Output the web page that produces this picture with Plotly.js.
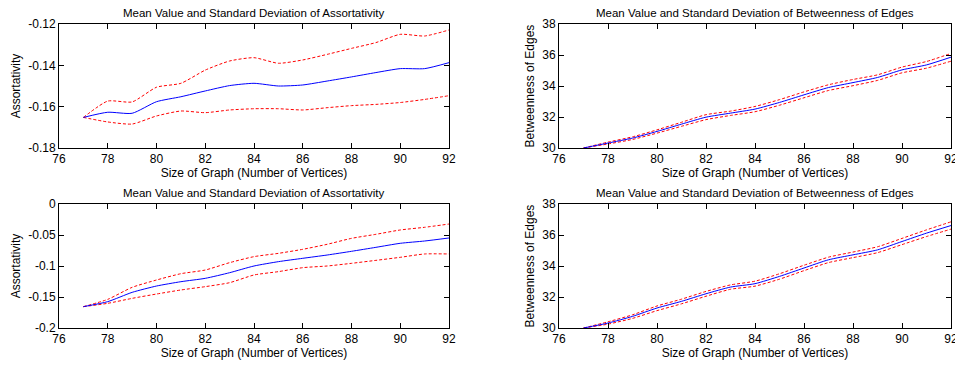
<!DOCTYPE html>
<html><head><meta charset="utf-8">
<script src="https://cdn.plot.ly/plotly-3.0.1.min.js"></script>
<style>html,body{margin:0;padding:0;background:#fff}#c{width:955px;height:367px}</style>
</head><body><div id="c"></div>
<script>
const sizes = [77,78,79,80,81,82,83,84,85,86,87,88,89,90,91,92];

const assortA_mean  = [-0.1652,-0.1627,-0.1632,-0.1576,-0.1552,-0.1524,-0.1498,-0.1487,-0.1500,-0.1495,-0.1476,-0.1456,-0.1435,-0.1416,-0.1416,-0.1387];
const assortA_upper = [-0.1652,-0.1573,-0.1577,-0.1506,-0.1487,-0.1423,-0.1379,-0.1363,-0.1390,-0.1374,-0.1347,-0.1318,-0.1290,-0.1250,-0.1258,-0.1229];
const assortA_lower = [-0.1652,-0.1674,-0.1684,-0.1645,-0.1621,-0.1629,-0.1616,-0.1610,-0.1610,-0.1616,-0.1605,-0.1595,-0.1589,-0.1580,-0.1565,-0.1547];

const assortB_mean  = [-0.1656,-0.1575,-0.1425,-0.1323,-0.1253,-0.1199,-0.1108,-0.1000,-0.0930,-0.0876,-0.0823,-0.0763,-0.0699,-0.0634,-0.0597,-0.0548];
const assortB_upper = [-0.1656,-0.1538,-0.1344,-0.1226,-0.1124,-0.1065,-0.0946,-0.0849,-0.0796,-0.0731,-0.0650,-0.0554,-0.0489,-0.0419,-0.0376,-0.0323];
const assortB_lower = [-0.1656,-0.1602,-0.1522,-0.1452,-0.1387,-0.1333,-0.1269,-0.1145,-0.1091,-0.1027,-0.1000,-0.0957,-0.0909,-0.0860,-0.0806,-0.0806];

const betwA_mean  = [30.00,30.32,30.64,31.07,31.54,31.99,32.25,32.51,32.94,33.43,33.90,34.22,34.55,35.04,35.36,35.86];
const betwA_upper = [30.00,30.38,30.72,31.17,31.66,32.15,32.38,32.68,33.12,33.62,34.08,34.42,34.72,35.22,35.58,36.10];
const betwA_lower = [30.00,30.26,30.55,30.96,31.40,31.83,32.10,32.34,32.76,33.24,33.71,34.02,34.36,34.85,35.15,35.60];

const betwB_mean  = [30.00,30.32,30.75,31.29,31.72,32.21,32.64,32.86,33.33,33.87,34.40,34.72,35.04,35.58,36.12,36.61];
const betwB_upper = [30.00,30.40,30.85,31.42,31.86,32.36,32.78,33.02,33.50,34.05,34.57,34.90,35.24,35.78,36.33,36.85];
const betwB_lower = [30.00,30.25,30.62,31.12,31.56,32.05,32.50,32.70,33.15,33.70,34.22,34.54,34.86,35.38,35.90,36.38];

const xTicks = [76,78,80,82,84,86,88,90,92];
const yTicksA = [-0.18,-0.16,-0.14,-0.12];
const yTickTextA = ['-0.18','-0.16','-0.14','-0.12'];
const yTicksB = [-0.2,-0.15,-0.1,-0.05,0];
const yTickTextB = ['-0.2','-0.15','-0.1','-0.05','0'];
const yTicksBetw = [30,32,34,36,38];

const titleAssort = 'Mean Value and Standard Deviation of Assortativity';
const titleBetw = 'Mean Value and Standard Deviation of Betweenness of Edges';
const xLabel = 'Size of Graph (Number of Vertices)';

function group(mean, up, lo, xa, ya){
  const red = {color:'#ff0000', width:1, dash:'3px,2px', shape:'spline', smoothing:0.6};
  return [
    {x:sizes, y:up, xaxis:xa, yaxis:ya, mode:'lines', line:red, hoverinfo:'skip'},
    {x:sizes, y:lo, xaxis:xa, yaxis:ya, mode:'lines', line:red, hoverinfo:'skip'},
    {x:sizes, y:mean, xaxis:xa, yaxis:ya, mode:'lines', line:{color:'#0000ff', width:1, shape:'spline', smoothing:0.6}, hoverinfo:'skip'}
  ];
}
const data = [].concat(
  group(assortA_mean, assortA_upper, assortA_lower, 'x', 'y'),
  group(betwA_mean, betwA_upper, betwA_lower, 'x2', 'y2'),
  group(assortB_mean, assortB_upper, assortB_lower, 'x3', 'y3'),
  group(betwB_mean, betwB_upper, betwB_lower, 'x4', 'y4')
);

const F = 'Liberation Sans, Arial, sans-serif';
function xax(dom, anchor){
  return {domain:dom, anchor:anchor, range:[76,92], tickvals:xTicks, ticks:'inside', ticklen:5, tickcolor:'#000',
    showline:true, linecolor:'#000', linewidth:1, mirror:'ticks', showgrid:false, zeroline:false,
    ticklabeloverflow:'allow',
    tickfont:{family:F, size:12, color:'#000'},
    title:{text:xLabel, font:{family:F, size:12, color:'#000'}, standoff:3}};
}
function yax(dom, anchor, range, vals, text, label){
  return {domain:dom, anchor:anchor, range:range, tickvals:vals, ticktext:text, ticks:'inside', ticklen:5, tickcolor:'#000',
    showline:true, linecolor:'#000', linewidth:1, mirror:'ticks', showgrid:false, zeroline:false,
    ticklabeloverflow:'allow',
    tickfont:{family:F, size:12, color:'#000'},
    title:{text:label, font:{family:F, size:12, color:'#000'}, standoff:5}};
}
const dxL=[59/955,449/955], dxR=[559/955,951/955];
const dyT=[(367-148)/367,(367-24)/367], dyB=[(367-328)/367,(367-204)/367];
const tf = {family:F,size:11.5,color:'#000'};

const layout = {
  width:955, height:367, margin:{l:0,r:0,t:0,b:0}, showlegend:false,
  paper_bgcolor:'#fff', plot_bgcolor:'#fff',
  xaxis: xax(dxL,'y'), yaxis: yax(dyT,'x',[-0.18,-0.12],yTicksA,yTickTextA,'Assortativity'),
  xaxis2: xax(dxR,'y2'), yaxis2: yax(dyT,'x2',[30,38],yTicksBetw,yTicksBetw.map(String),'Betweenness of Edges'),
  xaxis3: xax(dxL,'y3'), yaxis3: yax(dyB,'x3',[-0.2,0],yTicksB,yTickTextB,'Assortativity'),
  xaxis4: xax(dxR,'y4'), yaxis4: yax(dyB,'x4',[30,38],yTicksBetw,yTicksBetw.map(String),'Betweenness of Edges'),
  annotations: [
    {text:titleAssort, xref:'paper', yref:'paper', x:(dxL[0]+dxL[1])/2, y:dyT[1], yshift:3, xanchor:'center', yanchor:'bottom', showarrow:false, font:tf},
    {text:titleBetw, xref:'paper', yref:'paper', x:(dxR[0]+dxR[1])/2, y:dyT[1], yshift:3, xanchor:'center', yanchor:'bottom', showarrow:false, font:tf},
    {text:titleAssort, xref:'paper', yref:'paper', x:(dxL[0]+dxL[1])/2, y:dyB[1], yshift:3, xanchor:'center', yanchor:'bottom', showarrow:false, font:tf},
    {text:titleBetw, xref:'paper', yref:'paper', x:(dxR[0]+dxR[1])/2, y:dyB[1], yshift:3, xanchor:'center', yanchor:'bottom', showarrow:false, font:tf}
  ]
};
Plotly.newPlot('c', data, layout, {staticPlot:true, displayModeBar:false});
</script></body></html>
